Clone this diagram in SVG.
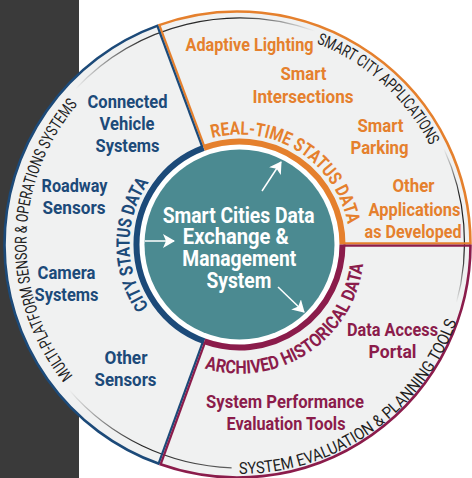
<svg xmlns="http://www.w3.org/2000/svg" width="472" height="478" viewBox="0 0 472 478">
<defs>
<style>
.lbl{font-family:Roboto,"Liberation Sans",sans-serif;font-weight:700;font-size:18.5px;text-anchor:middle}
.blue{fill:#1c4a79}
.orange{fill:#e5802d}
.maroon{fill:#8b1c4b}
.ctr{font-family:Roboto,"Liberation Sans",sans-serif;font-weight:700;font-size:21.5px;text-anchor:middle;fill:#fff}
.band{font-family:Roboto,"Liberation Sans",sans-serif;font-weight:700;font-size:18.5px;text-anchor:middle}
.ring{font-family:Roboto,"Liberation Sans",sans-serif;font-weight:400;font-size:16.5px;fill:#1e1e1e;text-anchor:middle}
.arrow{stroke:#fff;stroke-width:1.5;fill:none;marker-end:url(#ah)}
.trk{fill:none;stroke-width:1.2}
</style>
<marker id="ah" markerUnits="userSpaceOnUse" viewBox="0 0 12 14" refX="11" refY="7" markerWidth="12" markerHeight="14" orient="auto"><path d="M0,0 L12,7 L0,14 L3,7 Z" fill="#fff"/></marker>
<linearGradient id="gA" gradientUnits="userSpaceOnUse" x1="75.5" y1="89" x2="315" y2="31"><stop offset="0" stop-color="#222" stop-opacity="0"/><stop offset="0.3" stop-color="#222" stop-opacity="0.9"/><stop offset="0.7" stop-color="#222" stop-opacity="1"/><stop offset="1" stop-color="#222" stop-opacity="0"/></linearGradient>
<linearGradient id="gB" gradientUnits="userSpaceOnUse" x1="443.8" y1="148.6" x2="456.4" y2="302.8"><stop offset="0" stop-color="#222" stop-opacity="0"/><stop offset="0.3" stop-color="#222" stop-opacity="1"/><stop offset="0.7" stop-color="#222" stop-opacity="1"/><stop offset="1" stop-color="#222" stop-opacity="0"/></linearGradient>
<linearGradient id="gC" gradientUnits="userSpaceOnUse" x1="68.9" y1="389.7" x2="231.6" y2="467.9"><stop offset="0" stop-color="#222" stop-opacity="0"/><stop offset="0.5" stop-color="#222" stop-opacity="1"/><stop offset="1" stop-color="#222" stop-opacity="0.7"/></linearGradient>
<path id="pL" d="M129.8,425.6 A213,213 0 0 1 136.2,56.7"/>
<path id="pT" d="M247.0,29.1 A214,214 0 0 1 451.4,213.2"/>
<path id="pB" d="M219.4,473.1 A231,231 0 0 0 462.6,302.8"/>
<path id="pCity" d="M168.8,328.8 A110,110 0 0 1 168.8,160.2"/>
<path id="pReal" d="M206.4,139.6 A110,110 0 0 1 348.6,230.1"/>
<path id="pArch" d="M179.4,357.8 A124,124 0 0 0 363.4,236.9"/>
</defs>

<g id="background">
<rect x="0" y="0" width="472" height="478" fill="#fff"/>
<rect x="0" y="0" width="79" height="478" fill="#3a3a3a"/>
</g>

<g id="frame">
<circle cx="237.5" cy="244.5" r="233" fill="#f0f1f1"/>
<path d="M159.6,464.1 A233,233 0 0 1 158.3,25.4" fill="none" stroke="#1c4a79" stroke-width="2.6"/>
<path d="M158.3,25.4 A233,233 0 0 1 470.5,244.5" fill="none" stroke="#e5802d" stroke-width="2.6"/>
<path d="M470.5,244.5 A233,233 0 0 1 159.6,464.1" fill="none" stroke="#8b1c4b" stroke-width="2.6"/>
<path class="trk" stroke="url(#gA)" d="M75.5,89 A225,225 0 0 1 315,31"/>
<path class="trk" stroke="url(#gB)" d="M443.8,148.6 A225,225 0 0 1 456.4,302.8"/>
<path class="trk" stroke="url(#gC)" d="M231.6,467.9 A225,225 0 0 1 68.9,389.7"/>
<line x1="204.4" y1="146.6" x2="159.3" y2="25.0" stroke="#e5802d" stroke-width="2.2"/>
<line x1="202.4" y1="147.4" x2="157.3" y2="25.8" stroke="#1c4a79" stroke-width="2.2"/>
<line x1="202.9" y1="341.8" x2="158.6" y2="463.7" stroke="#1c4a79" stroke-width="2.2"/>
<line x1="204.9" y1="342.6" x2="160.6" y2="464.5" stroke="#8b1c4b" stroke-width="2.2"/>
<line x1="343.5" y1="243.4" x2="470.5" y2="243.4" stroke="#e5802d" stroke-width="2.2"/>
<line x1="343.5" y1="245.6" x2="470.5" y2="245.6" stroke="#8b1c4b" stroke-width="2.2"/>
<circle cx="239.5" cy="244.5" r="100" fill="#fff"/>
<path d="M204.3,341.3 A103,103 0 0 1 203.7,147.9" fill="none" stroke="#1c4a79" stroke-width="6"/>
<path d="M203.7,147.9 A103,103 0 0 1 342.5,244.5" fill="none" stroke="#e5802d" stroke-width="6"/>
<path d="M342.5,244.5 A103,103 0 0 1 204.3,341.3" fill="none" stroke="#8b1c4b" stroke-width="6"/>
</g>

<g id="ring-labels">
<text class="ring"><textPath href="#pL" startOffset="50%" textLength="294" lengthAdjust="spacingAndGlyphs">MULTI-PLATFORM SENSOR &amp; OPERATIONS SYSTEMS</textPath></text>
<text class="ring"><textPath href="#pT" startOffset="50%" textLength="156" lengthAdjust="spacingAndGlyphs">SMART CITY APPLICATIONS</textPath></text>
<text class="ring"><textPath href="#pB" startOffset="50%" textLength="283" lengthAdjust="spacingAndGlyphs">SYSTEM EVALUATION &amp; PLANNING TOOLS</textPath></text>
</g>

<g id="band-labels">
<text class="band blue"><textPath href="#pCity" startOffset="50%" textLength="132" lengthAdjust="spacingAndGlyphs">CITY STATUS DATA</textPath></text>
<text class="band orange"><textPath href="#pReal" startOffset="50%" textLength="180" lengthAdjust="spacingAndGlyphs">REAL-TIME STATUS DATA</textPath></text>
<text class="band maroon"><textPath href="#pArch" startOffset="50%" textLength="216" lengthAdjust="spacingAndGlyphs">ARCHIVED HISTORICAL DATA</textPath></text>
</g>

<g id="hub">
<circle cx="239.5" cy="244.5" r="95" fill="#4b8a91"/>
<text class="ctr" x="238.7" y="222.7" textLength="152" lengthAdjust="spacingAndGlyphs">Smart Cities Data</text>
<text class="ctr" x="235.8" y="244" textLength="106" lengthAdjust="spacingAndGlyphs">Exchange &amp;</text>
<text class="ctr" x="239.3" y="266" textLength="114" lengthAdjust="spacingAndGlyphs">Management</text>
<text class="ctr" x="238.9" y="288" textLength="65" lengthAdjust="spacingAndGlyphs">System</text>
</g>

<g id="connectors">
<line class="arrow" x1="145" y1="241" x2="174" y2="241"/>
<line class="arrow" x1="262" y1="191" x2="281" y2="162"/>
<line class="arrow" x1="278" y1="287" x2="304" y2="312"/>
</g>

<g id="node-connected-vehicle" class="lbl blue">
<text x="127.5" y="107.5" textLength="80" lengthAdjust="spacingAndGlyphs">Connected</text>
<text x="127" y="130" textLength="55" lengthAdjust="spacingAndGlyphs">Vehicle</text>
<text x="127.5" y="152" textLength="64" lengthAdjust="spacingAndGlyphs">Systems</text>
</g>
<g id="node-roadway-sensors" class="lbl blue">
<text x="74.5" y="191.5" textLength="66" lengthAdjust="spacingAndGlyphs">Roadway</text>
<text x="74" y="213.5" textLength="63" lengthAdjust="spacingAndGlyphs">Sensors</text>
</g>
<g id="node-camera-systems" class="lbl blue">
<text x="66.5" y="279" textLength="58" lengthAdjust="spacingAndGlyphs">Camera</text>
<text x="66.5" y="301" textLength="64" lengthAdjust="spacingAndGlyphs">Systems</text>
</g>
<g id="node-other-sensors" class="lbl blue">
<text x="126" y="364" textLength="43" lengthAdjust="spacingAndGlyphs">Other</text>
<text x="125.5" y="386" textLength="62" lengthAdjust="spacingAndGlyphs">Sensors</text>
</g>

<g id="node-adaptive-lighting" class="lbl orange">
<text x="249.5" y="51" textLength="128" lengthAdjust="spacingAndGlyphs">Adaptive Lighting</text>
</g>
<g id="node-smart-intersections" class="lbl orange">
<text x="303.5" y="80" textLength="46" lengthAdjust="spacingAndGlyphs">Smart</text>
<text x="303" y="103" textLength="101" lengthAdjust="spacingAndGlyphs">Intersections</text>
</g>
<g id="node-smart-parking" class="lbl orange">
<text x="380.5" y="131.5" textLength="46" lengthAdjust="spacingAndGlyphs">Smart</text>
<text x="379.5" y="154" textLength="58" lengthAdjust="spacingAndGlyphs">Parking</text>
</g>
<g id="node-other-applications" class="lbl orange">
<text x="413.5" y="192" textLength="42" lengthAdjust="spacingAndGlyphs">Other</text>
<text x="414.5" y="216" textLength="92" lengthAdjust="spacingAndGlyphs">Applications</text>
<text x="413" y="238" textLength="97" lengthAdjust="spacingAndGlyphs">as Developed</text>
</g>

<g id="node-data-access-portal" class="lbl maroon">
<text x="392.5" y="335.5" textLength="91" lengthAdjust="spacingAndGlyphs">Data Access</text>
<text x="392.5" y="358" textLength="48" lengthAdjust="spacingAndGlyphs">Portal</text>
</g>
<g id="node-performance-tools" class="lbl maroon">
<text x="285" y="408" textLength="158" lengthAdjust="spacingAndGlyphs">System Performance</text>
<text x="286" y="430" textLength="119" lengthAdjust="spacingAndGlyphs">Evaluation Tools</text>
</g>
</svg>
